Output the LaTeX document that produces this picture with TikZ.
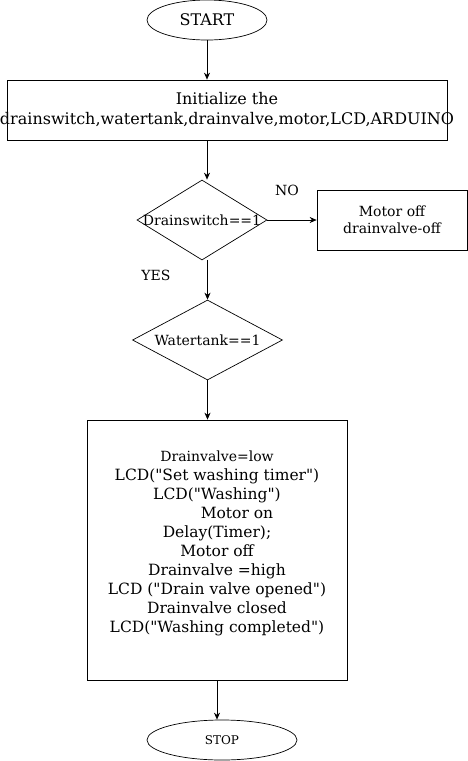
\documentclass[tikz,border=0pt]{standalone}
\usepackage{fontspec}
\setmainfont{DejaVu Serif}
\usetikzlibrary{arrows.meta,shapes.geometric}
\tikzset{
  terminal/.style={
    ellipse,
    draw,
    line width=0.7pt,
    inner sep=0pt
  },
  caja/.style={
    rectangle,
    draw,
    line width=0.7pt,
    align=center,
    inner sep=0pt
  },
  decision/.style={
    diamond,
    draw,
    line width=0.7pt,
    inner sep=0pt
  },
  etiqueta/.style={
    inner sep=0pt,
    font=\fontsize{14}{16}\selectfont
  },
  arrow/.style={
    -{Stealth[length=7pt,width=6pt]},
    line width=0.7pt
  }
}

\begin{document}
\begin{tikzpicture}[x=1pt,y=-1pt]
\useasboundingbox (0,0) rectangle (468,761);
\node[terminal,minimum width=120,minimum height=40,font=\fontsize{16}{18}\selectfont] (start) at (207,20) {START};
\node[caja,minimum width=440,minimum height=60,
  label={[align=center,font=\fontsize{16}{20}\selectfont]center:Initialize the\\drainswitch,watertank,drainvalve,motor,LCD,ARDUINO}] (init) at (227,110) {};
\node[decision,minimum width=130,minimum height=80,
  label={[etiqueta]center:Drainswitch==1}] (d1) at (202,220) {};
\node[caja,minimum width=150,minimum height=60,font=\fontsize{14}{17}\selectfont] (off) at (392,220) {Motor off\\drainvalve-off};
\node[decision,minimum width=150,minimum height=80,
  label={[etiqueta]center:Watertank==1}] (d2) at (207.5,340) {};
\node[caja,minimum width=260,minimum height=260,font=\fontsize{15.5}{19}\selectfont] (proc) at (217,550) {%
  {\fontsize{14}{19}\selectfont Drainvalve=low}\\
  LCD(\textquotedbl Set washing timer\textquotedbl)\\
  LCD(\textquotedbl Washing\textquotedbl)\\
  \hspace*{40pt}Motor on\\
  Delay(Timer);\\
  Motor off\\
  Drainvalve =high\\
  LCD (\textquotedbl Drain valve opened\textquotedbl)\\
  Drainvalve closed\\
  LCD(\textquotedbl Washing completed\textquotedbl)\\[-3pt]};
\node[terminal,minimum width=150,minimum height=40,font=\fontsize{12}{14}\selectfont] (stop) at (222,740) {STOP};
\node[etiqueta] (no) at (287,190) {NO};
\node[etiqueta] (yes) at (156,275) {YES};

\draw[arrow] (start.south) -- (start.south |- init.north);
\draw[arrow] (init.south -| start) -- (d1.north -| start);
\draw[arrow] (d1.east) -- (off.west);
\draw[arrow] (d1.south -| d2) -- (d2.north);
\draw[arrow] (d2.south) -- (d2.south |- proc.north);
\draw[arrow] (proc.south) -- (proc.south |- stop.north);
\end{tikzpicture}
\end{document}
